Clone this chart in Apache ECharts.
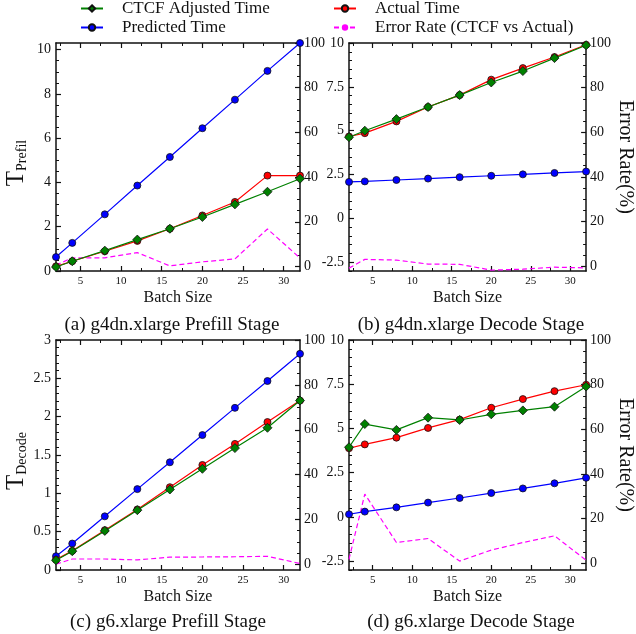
<!DOCTYPE html>
<html><head><meta charset="utf-8">
<script src="https://cdn.jsdelivr.net/npm/echarts@6/dist/echarts.min.js"></script>
<style>html,body{margin:0;padding:0;background:#fff}#c{width:636px;height:634px}</style>
</head><body><div id="c"></div>
<script>
// ---------------- DATA ----------------
const batchSizes = [2, 4, 8, 12, 16, 20, 24, 28, 32];
const xTickLabels = [5, 10, 15, 20, 25, 30];
const rightTickLabels = [0, 20, 40, 60, 80, 100];

const seriesNames = ['CTCF Adjusted Time', 'Actual Time', 'Predicted Time', 'Error Rate (CTCF vs Actual)'];

// (a) g4dn.xlarge Prefill Stage
const aPredicted = [0.63, 1.27, 2.56, 3.86, 5.15, 6.45, 7.74, 9.04, 10.3];
const aActual    = [0.21, 0.44, 0.89, 1.36, 1.91, 2.51, 3.12, 4.31, 4.31];
const aCtcf      = [0.18, 0.44, 0.92, 1.42, 1.91, 2.44, 3.01, 3.58, 4.17];
const aError     = [0.6, 3.9, 3.9, 6.2, 0.3, 2.1, 3.4, 16.8, 3.8];
const aLeftTicks = [0, 2, 4, 6, 8, 10];

// (b) g4dn.xlarge Decode Stage
const bPredicted = [2.08, 2.11, 2.19, 2.27, 2.35, 2.43, 2.51, 2.59, 2.67];
const bActual    = [4.67, 4.86, 5.53, 6.35, 7.03, 7.91, 8.57, 9.20, 9.90];
const bCtcf      = [4.63, 5.00, 5.66, 6.35, 7.03, 7.75, 8.40, 9.14, 9.87];
const bError     = [-0.9, 3.0, 2.7, 0.9, 0.8, -1.8, -1.4, -0.5, -0.8];
const bLeftTicks = [-2.5, 0, 2.5, 5, 7.5, 10];

// (c) g6.xlarge Prefill Stage
const cPredicted = [0.18, 0.345, 0.70, 1.055, 1.405, 1.76, 2.115, 2.465, 2.82];
const cActual    = [0.135, 0.25, 0.52, 0.79, 1.08, 1.37, 1.645, 1.93, 2.21];
const cCtcf      = [0.127, 0.245, 0.51, 0.78, 1.05, 1.32, 1.59, 1.855, 2.21];
const cError     = [0.1, 2.4, 2.4, 2.0, 3.2, 3.3, 3.4, 3.6, 0.4];
const cLeftTicks = [0, 0.5, 1, 1.5, 2, 2.5, 3];

// (d) g6.xlarge Decode Stage
const dPredicted = [0.15, 0.30, 0.54, 0.81, 1.07, 1.35, 1.61, 1.90, 2.21];
const dActual    = [3.88, 4.10, 4.48, 5.03, 5.50, 6.17, 6.66, 7.11, 7.47];
const dCtcf      = [3.94, 5.25, 4.92, 5.61, 5.48, 5.80, 6.02, 6.23, 7.37];
const dError     = [1.8, 31.0, 9.3, 11.1, 1.0, 5.9, 9.3, 12.3, 1.4];
const dLeftTicks = [-2.5, 0, 2.5, 5, 7.5, 10];

const captions = ['(a) g4dn.xlarge Prefill Stage', '(b) g4dn.xlarge Decode Stage',
                  '(c) g6.xlarge Prefill Stage', '(d) g6.xlarge Decode Stage'];

// ---------------- LAYOUT / STYLE ----------------
const FONT = '"Liberation Serif", "DejaVu Serif", serif';
const INK = '#111111';
const COLORS = { ctcf: '#008000', actual: '#ff0000', predicted: '#0000ff', error: '#ff00ff' };

const panels = [
  { grid: { left: 56, top: 43, width: 244, height: 228 }, left: [0, 10.3], leftTicks: aLeftTicks, leftMinor: 0.5,
    right: [-2, 100], d: [aCtcf, aActual, aPredicted, aError], leftName: ['T', 'Prefil'], rightName: false,
    cap: [172, 325] },
  { grid: { left: 349, top: 43, width: 244, height: 228 }, left: [-3, 10], leftTicks: bLeftTicks, leftMinor: 0.5,
    right: [-2.2, 100], d: [bCtcf, bActual, bPredicted, bError], leftName: null, rightName: true,
    cap: [471, 325] },
  { grid: { left: 56, top: 340, width: 244, height: 230 }, left: [0, 3], leftTicks: cLeftTicks, leftMinor: 0.1,
    right: [-2.5, 100], d: [cCtcf, cActual, cPredicted, cError], leftName: ['T', 'Decode'], rightName: false,
    cap: [168, 622] },
  { grid: { left: 349, top: 340, width: 244, height: 230 }, left: [-3, 10], leftTicks: dLeftTicks, leftMinor: 0.5,
    right: [-3, 100], d: [dCtcf, dActual, dPredicted, dError], leftName: null, rightName: true,
    cap: [471, 622] }
];

function minorVals(min, max, step, majors) {
  const out = [];
  const start = Math.ceil(min / step - 1e-9);
  for (let k = start; k * step <= max + 1e-9; k++) {
    const v = Math.round(k * step * 1e6) / 1e6;
    if (!majors.some(m => Math.abs(m - v) < 1e-6)) out.push(v);
  }
  return out;
}

const lineStyleAxis = { color: INK, width: 1.5 };
const xAxes = [], yAxes = [], grids = [], series = [], graphics = [];

panels.forEach((p, i) => {
  grids.push(Object.assign({ containLabel: false }, p.grid));
  const xMinor = minorVals(2, 32, 2.5, xTickLabels);
  const baseX = { type: 'value', gridIndex: i, min: 2, max: 32, splitLine: { show: false } };
  xAxes.push(Object.assign({}, baseX, {
    position: 'bottom',
    axisLine: { show: true, onZero: false, lineStyle: lineStyleAxis },
    axisTick: { show: true, inside: true, length: 5, customValues: xTickLabels, lineStyle: { color: INK, width: 1.2 } },
    axisLabel: { show: true, customValues: xTickLabels, fontFamily: FONT, fontSize: 11, color: INK, margin: 5 },
    name: 'Batch Size', nameLocation: 'middle', nameGap: 19,
    nameTextStyle: { fontFamily: FONT, fontSize: 16, color: INK }
  }));
  xAxes.push(Object.assign({}, baseX, {
    position: 'bottom', axisLine: { show: false, onZero: false },
    axisTick: { show: true, inside: true, length: 3, customValues: xMinor, lineStyle: { color: INK, width: 1 } },
    axisLabel: { show: false }
  }));
  xAxes.push(Object.assign({}, baseX, {
    position: 'top',
    axisLine: { show: true, onZero: false, lineStyle: lineStyleAxis },
    axisTick: { show: true, inside: true, length: 5, customValues: xTickLabels, lineStyle: { color: INK, width: 1.2 } },
    axisLabel: { show: false }
  }));
  xAxes.push(Object.assign({}, baseX, {
    position: 'top', axisLine: { show: false, onZero: false },
    axisTick: { show: true, inside: true, length: 3, customValues: xMinor, lineStyle: { color: INK, width: 1 } },
    axisLabel: { show: false }
  }));

  const leftAxis = {
    type: 'value', gridIndex: i, position: 'left', min: p.left[0], max: p.left[1], splitLine: { show: false },
    axisLine: { show: true, onZero: false, lineStyle: lineStyleAxis },
    axisTick: { show: true, inside: true, length: 5, customValues: p.leftTicks, lineStyle: { color: INK, width: 1.2 } },
    axisLabel: { show: true, customValues: p.leftTicks, fontFamily: FONT, fontSize: 14, color: INK, margin: 5 }
  };
  if (p.leftName) {
    leftAxis.name = '{t|' + p.leftName[0] + '}{s|' + p.leftName[1] + '}';
    leftAxis.nameLocation = 'middle';
    leftAxis.nameRotate = 90;
    leftAxis.nameGap = 27;
    leftAxis.nameTextStyle = {
      color: INK, fontFamily: FONT,
      padding: [0, 12, 0, 0],
      rich: {
        t: { fontFamily: FONT, fontSize: 25, color: INK, verticalAlign: 'bottom', lineHeight: 26 },
        s: { fontFamily: FONT, fontSize: 14, color: INK, verticalAlign: 'bottom', lineHeight: 14 }
      }
    };
  }
  yAxes.push(leftAxis);
  yAxes.push({
    type: 'value', gridIndex: i, position: 'left', min: p.left[0], max: p.left[1], splitLine: { show: false },
    axisLine: { show: false, onZero: false },
    axisTick: { show: true, inside: true, length: 3, customValues: minorVals(p.left[0], p.left[1], p.leftMinor, p.leftTicks), lineStyle: { color: INK, width: 1 } },
    axisLabel: { show: false }
  });
  const rightAxis = {
    type: 'value', gridIndex: i, position: 'right', min: p.right[0], max: p.right[1], splitLine: { show: false },
    axisLine: { show: true, onZero: false, lineStyle: lineStyleAxis },
    axisTick: { show: true, inside: true, length: 5, customValues: rightTickLabels, lineStyle: { color: INK, width: 1.2 } },
    axisLabel: { show: true, customValues: rightTickLabels, fontFamily: FONT, fontSize: 14, color: INK, margin: 4 }
  };
  if (p.rightName) {
    rightAxis.name = 'Error Rate(%)';
    rightAxis.nameLocation = 'middle';
    rightAxis.nameRotate = -90;
    rightAxis.nameGap = 27;
    rightAxis.nameTextStyle = { fontFamily: FONT, fontSize: 20, color: INK };
  }
  yAxes.push(rightAxis);
  yAxes.push({
    type: 'value', gridIndex: i, position: 'right', min: p.right[0], max: p.right[1], splitLine: { show: false },
    axisLine: { show: false, onZero: false },
    axisTick: { show: true, inside: true, length: 3, customValues: minorVals(0, 100, 5, rightTickLabels), lineStyle: { color: INK, width: 1 } },
    axisLabel: { show: false }
  });

  const xi = 4 * i, yl = 4 * i, yr = 4 * i + 2;
  const pts = arr => batchSizes.map((x, k) => [x, arr[k]]);
  const [ctcf, actual, predicted, err] = p.d;
  series.push({
    name: seriesNames[2], type: 'line', xAxisIndex: xi, yAxisIndex: yl, data: pts(predicted),
    symbol: 'circle', symbolSize: 7, color: COLORS.predicted, z: 3,
    lineStyle: { color: COLORS.predicted, width: 1.2 },
    itemStyle: { color: COLORS.predicted, borderColor: '#111', borderWidth: 0.8 }
  });
  series.push({
    name: seriesNames[1], type: 'line', xAxisIndex: xi, yAxisIndex: yl, data: pts(actual),
    symbol: 'circle', symbolSize: 7, color: COLORS.actual, z: 4,
    lineStyle: { color: COLORS.actual, width: 1.2 },
    itemStyle: { color: COLORS.actual, borderColor: '#111', borderWidth: 0.8 }
  });
  series.push({
    name: seriesNames[0], type: 'line', xAxisIndex: xi, yAxisIndex: yl, data: pts(ctcf),
    symbol: 'diamond', symbolSize: 9, color: COLORS.ctcf, z: 5,
    lineStyle: { color: COLORS.ctcf, width: 1.2 },
    itemStyle: { color: COLORS.ctcf, borderColor: '#111', borderWidth: 0.8 }
  });
  series.push({
    name: seriesNames[3], type: 'line', xAxisIndex: xi, yAxisIndex: yr, data: pts(err),
    symbol: 'none', showSymbol: false, color: COLORS.error, z: 2,
    lineStyle: { color: COLORS.error, width: 1.2, type: [5, 3] }
  });

  graphics.push({
    type: 'text', x: p.cap[0], y: p.cap[1],
    style: { text: captions[i], fill: INK, font: '19px ' + FONT, textAlign: 'center', textVerticalAlign: 'middle' }
  });
});

const legendBase = {
  orient: 'horizontal', padding: 0, itemWidth: 22, itemHeight: 8, selectedMode: false,
  textStyle: { fontFamily: FONT, fontSize: 17, color: INK, padding: [0, 0, 0, 14] }
};
const legends = [
  Object.assign({}, legendBase, { data: [seriesNames[0]], left: 80, top: 0 }),
  Object.assign({}, legendBase, { data: [seriesNames[2]], left: 80, top: 19 }),
  Object.assign({}, legendBase, { data: [seriesNames[1]], left: 333, top: 0 }),
  Object.assign({}, legendBase, { data: [seriesNames[3]], left: 333, top: 19 })
];

const chart = echarts.init(document.getElementById('c'), null, { renderer: 'canvas' });
chart.setOption({
  animation: false,
  backgroundColor: '#ffffff',
  textStyle: { fontFamily: FONT },
  legend: legends,
  grid: grids,
  xAxis: xAxes,
  yAxis: yAxes,
  series: series,
  graphic: graphics
});
</script>
</body></html>
